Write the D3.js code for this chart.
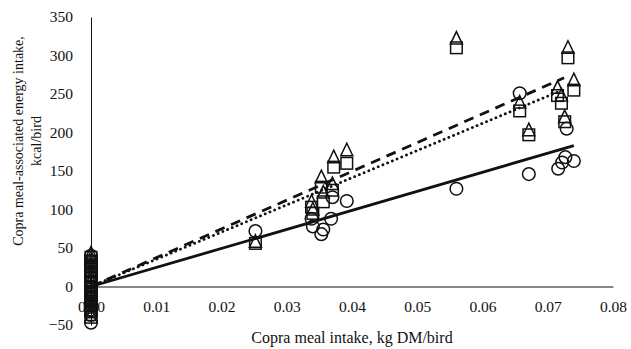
<!DOCTYPE html>
<html>
<head>
<meta charset="utf-8">
<script src="https://cdn.jsdelivr.net/npm/d3@7"></script>
<style>
  html, body { margin: 0; padding: 0; background: #fff; }
  svg { display: block; font-family: "Liberation Serif", "Times New Roman", serif; }
</style>
</head>
<body>
<div id="chart"></div>
<script>
// --- Data ---
// triangles (dashed trend)
const triX = [0, 0, 0, 0, 0, 0, 0, 0, 0, 0, 0, 0, 0, 0,
  0.0252, 0.0338, 0.0340, 0.0353, 0.0356, 0.0372, 0.0370, 0.0392,
  0.0560, 0.0657, 0.0671, 0.0715, 0.0721, 0.0726, 0.0731, 0.0740];
const triY = [43, 37, 31, 25, 19, 13, 8, 2, -5, -11, -18, -25, -31, -37,
  58, 110, 100, 142, 122, 168, 133, 177,
  322, 239, 203, 258, 248, 220, 310, 268];

// squares (dotted trend)
const sqX = [0, 0, 0, 0, 0, 0, 0, 0, 0, 0, 0, 0, 0,
  0.0252, 0.0338, 0.0340, 0.0353, 0.0356, 0.0372, 0.0370, 0.0392,
  0.0560, 0.0657, 0.0671, 0.0715, 0.0721, 0.0726, 0.0731, 0.0740];
const sqY = [38, 32, 26, 20, 14, 7, 0, -7, -14, -20, -27, -33, -40,
  56, 103, 95, 129, 110, 155, 125, 160,
  310, 228, 197, 248, 238, 214, 297, 255];

// circles (solid trend)
const cirX = [0, 0, 0, 0, 0, 0, 0, 0, 0, 0, 0, 0, 0,
  0.0252, 0.0338, 0.0340, 0.0353, 0.0356, 0.0370, 0.0368, 0.0392,
  0.0560, 0.0657, 0.0671, 0.0716, 0.0722, 0.0727, 0.0740, 0.0729];
const cirY = [40, 33, 26, 19, 12, 5, -2, -9, -16, -23, -30, -37, -47,
  72, 88, 78, 68, 74, 116, 88, 111,
  127, 251, 146, 153, 161, 168, 163, 205];

// trendlines: [x0, y0, x1, y1]
const trendTri = [0, 0, 0.0725, 271];
const trendSq = [0, 0, 0.0722, 255];
const trendCir = [0, 0, 0.0740, 183];

const xTicks = [0, 0.01, 0.02, 0.03, 0.04, 0.05, 0.06, 0.07, 0.08];
const yTicks = [-50, 0, 50, 100, 150, 200, 250, 300, 350];

const xTitle = "Copra meal intake, kg DM/bird";
const yTitle = ["Copra meal-associated energy intake,", "kcal/bird"];

// --- Layout ---
const W = 631, H = 349;
const plot = { left: 91, right: 613, top: 17, bottom: 325 };
const ink = "#111";
const tickSize = 15.5;

const svg = d3.select("#chart").append("svg")
  .attr("width", W).attr("height", H);

const x = d3.scaleLinear().domain([0, 0.08]).range([plot.left, plot.right]);
const y = d3.scaleLinear().domain([-50, 350]).range([plot.bottom, plot.top]);

// y axis (line only, labels to the left)
const yAxis = svg.append("g")
  .attr("transform", `translate(${x(0)},0)`)
  .call(d3.axisLeft(y).tickValues(yTicks).tickSize(0).tickPadding(18)
    .tickFormat(d3.format("d")));
yAxis.select(".domain").attr("stroke", ink).attr("stroke-width", 1);
yAxis.selectAll(".tick text").attr("fill", ink).attr("font-size", tickSize)
  .attr("font-family", "Liberation Serif");

// x axis at y = 0
const xAxis = svg.append("g")
  .attr("transform", `translate(0,${y(0)})`)
  .call(d3.axisBottom(x).tickValues(xTicks).tickSize(0).tickPadding(14)
    .tickFormat(d3.format(".2f")));
xAxis.select(".domain").attr("stroke", ink).attr("stroke-width", 1);
xAxis.selectAll(".tick text").attr("fill", ink).attr("font-size", tickSize)
  .attr("font-family", "Liberation Serif");

// axis titles
svg.append("text")
  .attr("x", (plot.left + plot.right) / 2).attr("y", 343)
  .attr("text-anchor", "middle").attr("font-size", 16).attr("fill", ink)
  .text(xTitle);

const yt = svg.append("text")
  .attr("transform", `translate(23,141) rotate(-90)`)
  .attr("text-anchor", "middle").attr("font-size", 14).attr("fill", ink);
yt.append("tspan").attr("x", 0).attr("dy", 0).text(yTitle[0]);
yt.append("tspan").attr("x", 0).attr("dy", 18).text(yTitle[1]);

// --- Markers ---
function markers(xs, ys, shape) {
  const pts = xs.map((v, i) => [v, ys[i]]);
  const g = svg.append("g").attr("fill", "none").attr("stroke", ink).attr("stroke-width", 1.5);
  if (shape === "circle") {
    g.selectAll("circle").data(pts).join("circle")
      .attr("cx", d => x(d[0])).attr("cy", d => y(d[1])).attr("r", 6.3);
  } else if (shape === "square") {
    g.selectAll("rect").data(pts).join("rect")
      .attr("x", d => x(d[0]) - 5.8).attr("y", d => y(d[1]) - 5.8)
      .attr("width", 11.6).attr("height", 11.6);
  } else {
    g.selectAll("path").data(pts).join("path")
      .attr("d", d => {
        const cx = x(d[0]), cy = y(d[1]);
        return `M${cx},${cy - 7}L${cx + 6},${cy + 5.5}L${cx - 6},${cy + 5.5}Z`;
      });
  }
}

markers(cirX, cirY, "circle");
markers(sqX, sqY, "square");
markers(triX, triY, "triangle");

// --- Trendlines ---
function trend(t, dash, cap) {
  svg.append("line")
    .attr("x1", x(t[0])).attr("y1", y(t[1]))
    .attr("x2", x(t[2])).attr("y2", y(t[3]))
    .attr("stroke", ink).attr("stroke-width", 2.8)
    .attr("stroke-dasharray", dash)
    .attr("stroke-linecap", cap);
}
trend(trendCir, null, "butt");
trend(trendTri, "10,7", "butt");
trend(trendSq, "0.1,5", "round");
</script>
</body>
</html>
